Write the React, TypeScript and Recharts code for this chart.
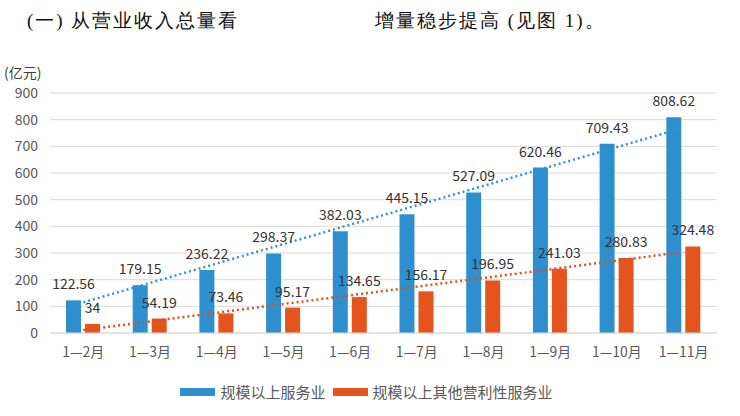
import { Bar, CartesianGrid, ComposedChart, LabelList, Line, XAxis, YAxis } from 'recharts'

const months = ['1—2月', '1—3月', '1—4月', '1—5月', '1—6月', '1—7月', '1—8月', '1—9月', '1—10月', '1—11月']
const serviceAbove = [122.56, 179.15, 236.22, 298.37, 382.03, 445.15, 527.09, 620.46, 709.43, 808.62]
const otherProfit = [34, 54.19, 73.46, 95.17, 134.65, 156.17, 196.95, 241.03, 280.83, 324.48]
// trend line ends (middle left empty, joined straight)
const serviceTrend = [115, null, null, null, null, null, null, null, null, 770]
const otherTrend = [11, null, null, null, null, null, null, null, null, 304]
const yTicks = [0, 100, 200, 300, 400, 500, 600, 700, 800, 900]

const BLUE = '#2e8fcf'
const ORANGE = '#e5541c'
const FONT = '"Noto Sans CJK SC", "Noto Sans", sans-serif'

const data = months.map((m, i) => ({
  month: m,
  a: serviceAbove[i],
  b: otherProfit[i],
  ta: serviceTrend[i],
  tb: otherTrend[i],
}))

function LegendBox() {
  const item = (color: string, text: string) => (
    <span style={{ display: 'inline-flex', alignItems: 'center', marginRight: 7 }}>
      <span style={{ display: 'inline-block', width: 35, height: 8, background: color, marginRight: 5 }} />
      <span>{text}</span>
    </span>
  )
  return (
    <div
      style={{
        position: 'absolute',
        top: 381,
        left: 0,
        width: 740,
        display: 'flex',
        justifyContent: 'center',
        fontSize: 15,
        color: '#595959',
        fontFamily: FONT,
      }}
    >
      {item(BLUE, '规模以上服务业')}
      {item(ORANGE, '规模以上其他营利性服务业')}
    </div>
  )
}

const titleStyle = {
  position: 'absolute' as const,
  top: 8,
  fontSize: 19,
  letterSpacing: 2,
  fontFamily: 'serif',
  color: '#111',
  whiteSpace: 'pre' as const,
}

export default function App() {
  return (
    <div style={{ position: 'fixed', left: 0, top: 0, width: 740, height: 416, background: '#fff', overflow: 'hidden' }}>
      <div style={{ ...titleStyle, left: 27 }}>(一) 从营业收入总量看</div>
      <div style={{ ...titleStyle, left: 375 }}>增量稳步提高 (见图 1)。</div>
      <div style={{ position: 'absolute', top: 62, left: 4, fontSize: 14, color: '#404040', fontFamily: FONT }}>
        (亿元)
      </div>
      <div style={{ position: 'absolute', left: 0, top: 0 }}>
        <ComposedChart
          width={740}
          height={416}
          data={data}
          margin={{ top: 93, right: 23, bottom: 53, left: 0 }}
          barSize={15}
          barGap={4}
          style={{ fontFamily: FONT }}
        >
          <CartesianGrid vertical={false} stroke="#d9d9d9" />
          <XAxis
            dataKey="month"
            height={30}
            tickLine={false}
            axisLine={{ stroke: '#d9d9d9' }}
            tick={{ fill: '#595959', fontSize: 14 }}
            tickMargin={8}
            interval={0}
          />
          <YAxis
            width={50}
            domain={[0, 900]}
            ticks={yTicks}
            interval={0}
            tickLine={false}
            axisLine={false}
            tick={{ fill: '#595959', fontSize: 14 }}
            tickMargin={6}
          />
          <Bar dataKey="a" fill={BLUE} isAnimationActive={false}>
            <LabelList dataKey="a" position="top" offset={11} fill="#333" fontSize={14} />
          </Bar>
          <Bar dataKey="b" fill={ORANGE} isAnimationActive={false}>
            <LabelList dataKey="b" position="top" offset={11} fill="#333" fontSize={14} />
          </Bar>
          <Line
            dataKey="ta"
            stroke="#3b8fc9"
            strokeWidth={2.5}
            strokeDasharray="2 3"
            dot={false}
            connectNulls
            isAnimationActive={false}
          />
          <Line
            dataKey="tb"
            stroke="#e0501a"
            strokeWidth={2.5}
            strokeDasharray="2 3"
            dot={false}
            connectNulls
            isAnimationActive={false}
          />
        </ComposedChart>
      </div>
      <LegendBox />
    </div>
  )
}
